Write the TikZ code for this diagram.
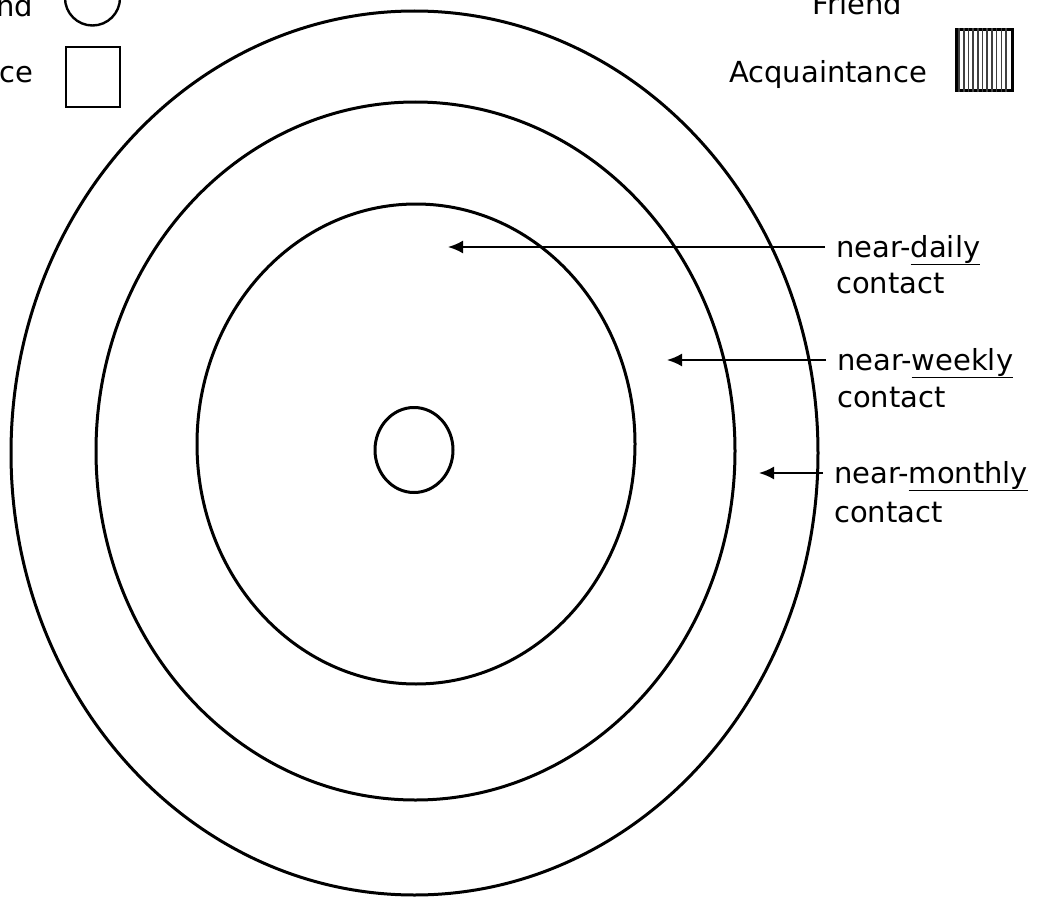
\documentclass[tikz,border=0pt]{standalone}
\usepackage{fontspec}
\setmainfont{DejaVu Sans}
\usetikzlibrary{positioning, arrows.meta, shapes.geometric}

\begin{document}
\begin{tikzpicture}[
  x=1pt, y=-1pt,
  every node/.style={font=\fontsize{29}{33}\selectfont},
  ring/.style={draw, ellipse, line width=3pt, inner sep=0pt},
  lbl/.style={inner xsep=11pt, inner ysep=0pt, text height=20pt, text depth=0pt},
  key/.style={inner sep=0pt},
  arr/.style={-{Latex[length=15pt, width=13pt]}, line width=2pt}
]
  \useasboundingbox (0,0) rectangle (1042,899);
  \clip (0,0) rectangle (1042,899);

  % contact rings
  \node[ring, minimum width=807pt, minimum height=884pt] (monthring) at (414.5,453) {};
  \node[ring, minimum width=639pt, minimum height=698pt] (weekring) at (415.5,451) {};
  \node[ring, minimum width=438pt, minimum height=480pt] (dayring) at (416,444) {};
  \node[ring, minimum width=78pt, minimum height=85pt] (self) at (414,450) {};

  % legend, left
  \node[key, anchor=base east] (lfriend) at (33,17) {Friend};
  \node[key, anchor=base east] (lacq) at (33,82) {Acquaintance};
  \node[draw, circle, line width=2.4pt, minimum size=55pt, inner sep=0pt] (lfriendkey) at (92.5,-2) {};
  \node[draw, rectangle, line width=2.4pt, minimum width=54pt, minimum height=60pt, inner sep=0pt] (lacqkey) at (93,77) {};

  % legend, right
  \node[key, anchor=base east] (rfriend) at (902,15) {Friend};
  \node[key, anchor=base east] (racq) at (927,82) {Acquaintance};
  \node[draw, rectangle, line width=3pt, minimum width=56pt, minimum height=61pt, inner sep=0pt] (racqkey) at (984,60.5) {};
  \foreach \i in {1,...,11}
    \draw[black!75, line width=1.4pt] ([xshift=\i*4.67pt]racqkey.south west) -- ([xshift=\i*4.67pt]racqkey.north west);

  % labels
  \node[lbl, anchor=base west] (daily) at (825,257) {near-\underline{daily}};
  \node[lbl, below=16pt of daily.south west, anchor=north west] (dailyc) {contact};
  \node[lbl, anchor=base west] (weekly) at (826,370) {near-\underline{weekly}};
  \node[lbl, below=17pt of weekly.south west, anchor=north west] (weeklyc) {contact};
  \node[lbl, anchor=base west] (monthly) at (823,483) {near-\underline{monthly}};
  \node[lbl, below=19pt of monthly.south west, anchor=north west] (monthlyc) {contact};

  \coordinate (dailytip) at (448,245);
  \coordinate (weeklytip) at (667,357);
  \coordinate (monthlytip) at (759,470);

  \draw[arr] (daily.west) -- (daily.west -| dailytip);
  \draw[arr] (weekly.west) -- (weekly.west -| weeklytip);
  \draw[arr] (monthly.west) -- (monthly.west -| monthlytip);
\end{tikzpicture}
\end{document}
